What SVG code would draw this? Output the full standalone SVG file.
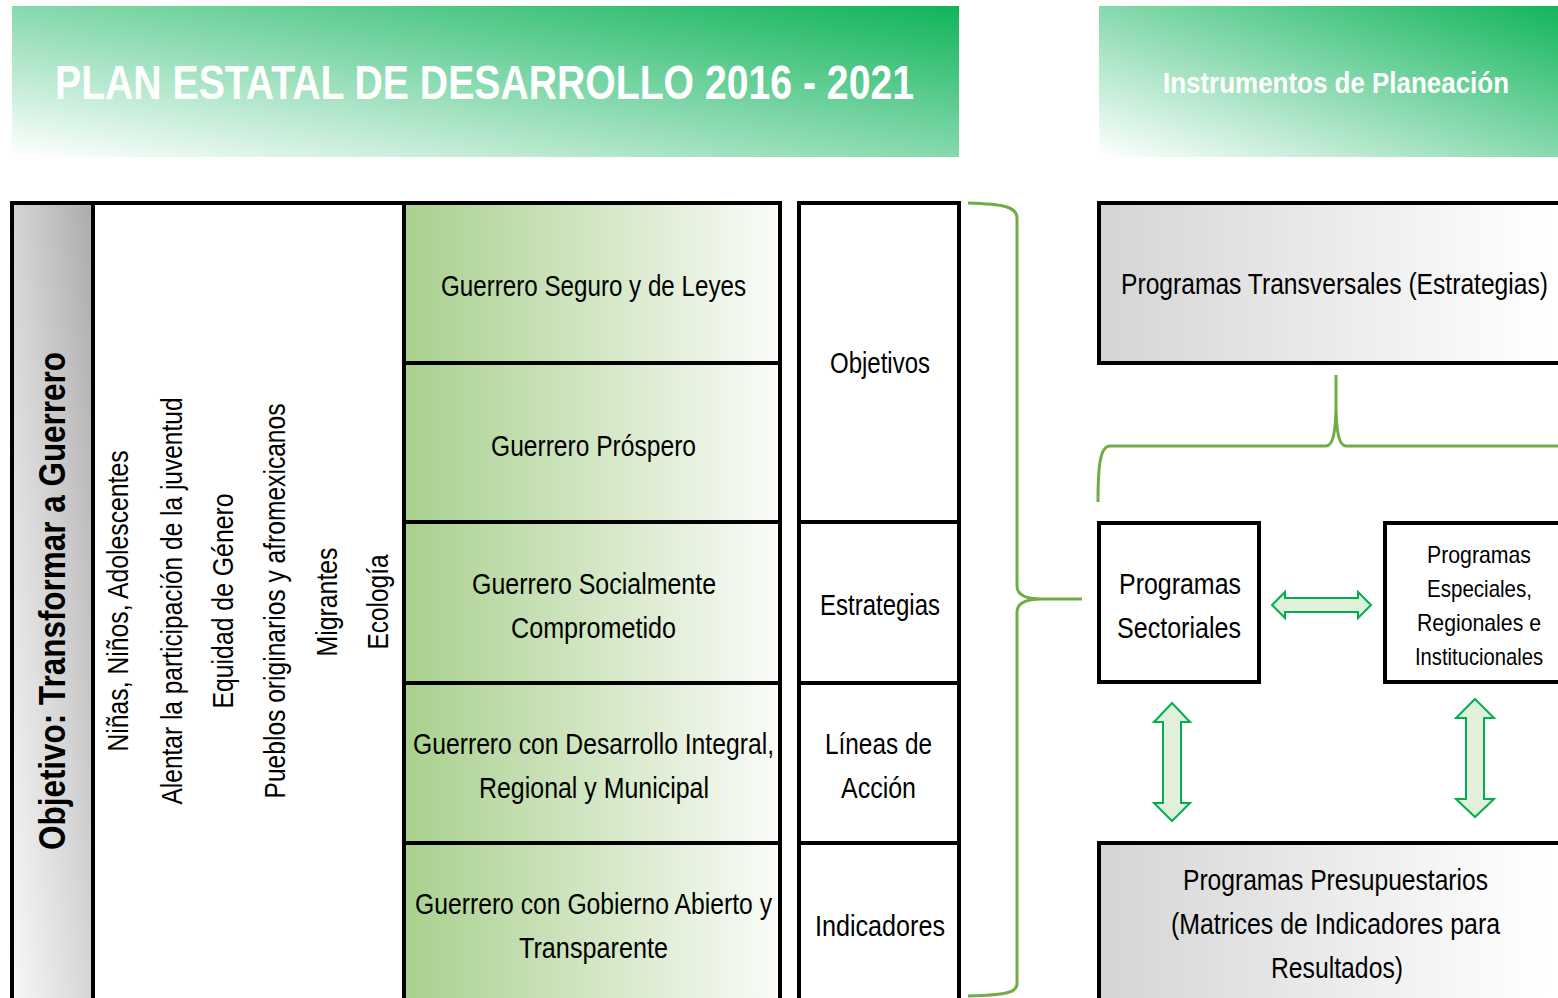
<svg xmlns="http://www.w3.org/2000/svg" width="1558" height="998" viewBox="0 0 1558 998">
<defs>
<linearGradient id="hdr" x1="0" y1="1" x2="1" y2="0">
<stop offset="0" stop-color="#ffffff"/>
<stop offset="0.5" stop-color="#86d9ad"/>
<stop offset="1" stop-color="#10b45a"/>
</linearGradient>
<linearGradient id="grayCol" x1="0" y1="1" x2="1" y2="0">
<stop offset="0" stop-color="#f8f8f8"/>
<stop offset="0.5" stop-color="#d6d5d5"/>
<stop offset="1" stop-color="#adaaaa"/>
</linearGradient>
<linearGradient id="greenCol" x1="0" y1="0" x2="1" y2="0">
<stop offset="0" stop-color="#a9d08e"/>
<stop offset="1" stop-color="#fafcf8"/>
</linearGradient>
<linearGradient id="grayBox" gradientUnits="userSpaceOnUse" x1="1099" y1="0" x2="1545" y2="0">
<stop offset="0" stop-color="#d5d5d5"/>
<stop offset="1" stop-color="#ffffff"/>
</linearGradient>
</defs>
<style>
.t{font-family:"Liberation Sans Narrow","Liberation Sans",Arial,sans-serif;fill:#000;text-anchor:middle;}
.b{font-weight:bold;}
.w{fill:#ffffff;}
.ln{stroke:#000;stroke-width:4;fill:none;}
.box{stroke:#000;stroke-width:4;}
.brace{stroke:#70ad47;stroke-width:3;fill:none;}
.arr{fill:#e2efda;stroke:#00b050;stroke-width:2;stroke-linejoin:miter;}
</style>
<rect width="1558" height="998" fill="#ffffff"/>

<g id="header-plan">
<rect x="12" y="6" width="947" height="151" fill="url(#hdr)"/>
<text class="t b w" x="484.5" y="99" font-size="49" textLength="859" lengthAdjust="spacingAndGlyphs">PLAN ESTATAL DE DESARROLLO 2016 - 2021</text>
</g>

<g id="header-instrumentos">
<rect x="1099" y="6" width="470" height="151" fill="url(#hdr)"/>
<text class="t b w" x="1336" y="93" font-size="30" textLength="346" lengthAdjust="spacingAndGlyphs">Instrumentos de Planeación</text>
</g>

<g id="objetivo-column">
<rect x="12" y="203" width="81" height="800" fill="url(#grayCol)"/>
<text class="t b" transform="translate(65,601) rotate(-90)" font-size="37" textLength="498" lengthAdjust="spacingAndGlyphs">Objetivo: Transformar a Guerrero</text>
</g>

<g id="transversal-column">
<rect x="93" y="203" width="311" height="800" fill="#ffffff"/>
<text class="t" transform="translate(128,601) rotate(-90)" font-size="29" textLength="301" lengthAdjust="spacingAndGlyphs">Niñas, Niños, Adolescentes</text>
<text class="t" transform="translate(182,601) rotate(-90)" font-size="29" textLength="407" lengthAdjust="spacingAndGlyphs">Alentar la participación de la juventud</text>
<text class="t" transform="translate(233,601) rotate(-90)" font-size="29" textLength="215" lengthAdjust="spacingAndGlyphs">Equidad de Género</text>
<text class="t" transform="translate(285,601) rotate(-90)" font-size="29" textLength="395" lengthAdjust="spacingAndGlyphs">Pueblos originarios y afromexicanos</text>
<text class="t" transform="translate(337,602) rotate(-90)" font-size="29" textLength="109" lengthAdjust="spacingAndGlyphs">Migrantes</text>
<text class="t" transform="translate(388,602) rotate(-90)" font-size="29" textLength="95" lengthAdjust="spacingAndGlyphs">Ecología</text>
</g>

<g id="ejes-column">
<rect x="404" y="203" width="376" height="800" fill="url(#greenCol)"/>
<text class="t" x="593.5" y="296" font-size="29" textLength="305" lengthAdjust="spacingAndGlyphs">Guerrero Seguro y de Leyes</text>
<text class="t" x="593.5" y="456" font-size="29" textLength="205" lengthAdjust="spacingAndGlyphs">Guerrero Próspero</text>
<text class="t" x="594" y="594" font-size="29" textLength="244" lengthAdjust="spacingAndGlyphs">Guerrero Socialmente</text>
<text class="t" x="593.5" y="638" font-size="29" textLength="165" lengthAdjust="spacingAndGlyphs">Comprometido</text>
<text class="t" x="593.5" y="754" font-size="29" textLength="361" lengthAdjust="spacingAndGlyphs">Guerrero con Desarrollo Integral,</text>
<text class="t" x="594" y="798" font-size="29" textLength="230" lengthAdjust="spacingAndGlyphs">Regional y Municipal</text>
<text class="t" x="593.5" y="914" font-size="29" textLength="357" lengthAdjust="spacingAndGlyphs">Guerrero con Gobierno Abierto y</text>
<text class="t" x="593.5" y="958" font-size="29" textLength="149" lengthAdjust="spacingAndGlyphs">Transparente</text>
</g>

<g id="table-lines">
<path class="ln" d="M10,203 H782 M12,203 V1000 M93,203 V1000 M404,203 V1000 M780,203 V1000 M404,363 H782 M404,522 H782 M404,683 H782 M404,843 H782"/>
</g>

<g id="elementos-column">
<rect x="799" y="203" width="160" height="800" fill="#ffffff"/>
<path class="ln" d="M797,203 H961 M799,203 V1000 M959,203 V1000 M799,522 H961 M799,683 H961 M799,843 H961"/>
<text class="t" x="880" y="373" font-size="29" textLength="100" lengthAdjust="spacingAndGlyphs">Objetivos</text>
<text class="t" x="880" y="615" font-size="29" textLength="120" lengthAdjust="spacingAndGlyphs">Estrategias</text>
<text class="t" x="878.5" y="754" font-size="29" textLength="107" lengthAdjust="spacingAndGlyphs">Líneas de</text>
<text class="t" x="878.5" y="798" font-size="29" textLength="75" lengthAdjust="spacingAndGlyphs">Acción</text>
<text class="t" x="880" y="936" font-size="29" textLength="130" lengthAdjust="spacingAndGlyphs">Indicadores</text>
</g>

<g id="programas-transversales">
<rect class="box" x="1099" y="203" width="480" height="160" fill="url(#grayBox)"/>
<text class="t" x="1334.5" y="294" font-size="29" textLength="427" lengthAdjust="spacingAndGlyphs">Programas Transversales (Estrategias)</text>
</g>

<g id="programas-sectoriales">
<rect class="box" x="1099" y="523" width="160" height="159" fill="#ffffff"/>
<text class="t" x="1180" y="594" font-size="29" textLength="122" lengthAdjust="spacingAndGlyphs">Programas</text>
<text class="t" x="1179" y="638" font-size="29" textLength="124" lengthAdjust="spacingAndGlyphs">Sectoriales</text>
</g>

<g id="programas-especiales">
<rect class="box" x="1385" y="523" width="190" height="159" fill="#ffffff"/>
<text class="t" x="1479" y="563" font-size="24" textLength="104" lengthAdjust="spacingAndGlyphs">Programas</text>
<text class="t" x="1479.5" y="597" font-size="24" textLength="105" lengthAdjust="spacingAndGlyphs">Especiales,</text>
<text class="t" x="1479" y="631" font-size="24" textLength="124" lengthAdjust="spacingAndGlyphs">Regionales e</text>
<text class="t" x="1479" y="665" font-size="24" textLength="128" lengthAdjust="spacingAndGlyphs">Institucionales</text>
</g>

<g id="programas-presupuestarios">
<rect class="box" x="1099" y="843" width="480" height="170" fill="url(#grayBox)"/>
<text class="t" x="1335.5" y="890" font-size="29" textLength="305" lengthAdjust="spacingAndGlyphs">Programas Presupuestarios</text>
<text class="t" x="1335.5" y="934" font-size="29" textLength="329" lengthAdjust="spacingAndGlyphs">(Matrices de Indicadores para</text>
<text class="t" x="1337" y="978" font-size="29" textLength="132" lengthAdjust="spacingAndGlyphs">Resultados)</text>
</g>

<g id="connectors">
<path class="brace" d="M968,203 C1004,204 1017,207 1017,218 L1017,586 C1017,595 1026,599 1042,599 L1082,599 M1042,599 C1026,599 1017,603 1017,612 L1017,984 C1017,993 1004,995 968,996"/>
<path class="brace" d="M1098,502 C1098,466 1100,446 1110,446 L1326,446 C1333,446 1336,432 1336,402 L1336,375 M1336,402 C1336,432 1339,446 1346,446 L1560,446"/>
<polygon class="arr" points="1272,605 1285,592 1285,598 1358,598 1358,592 1371,605 1358,618 1358,612 1285,612 1285,618"/>
<polygon class="arr" points="1172,703 1190,722 1181,722 1181,803 1190,803 1172,821 1154,803 1163,803 1163,722 1154,722"/>
<polygon class="arr" points="1475,699 1494,718 1484,718 1484,799 1494,799 1475,817 1456,799 1466,799 1466,718 1456,718"/>
</g>
</svg>
